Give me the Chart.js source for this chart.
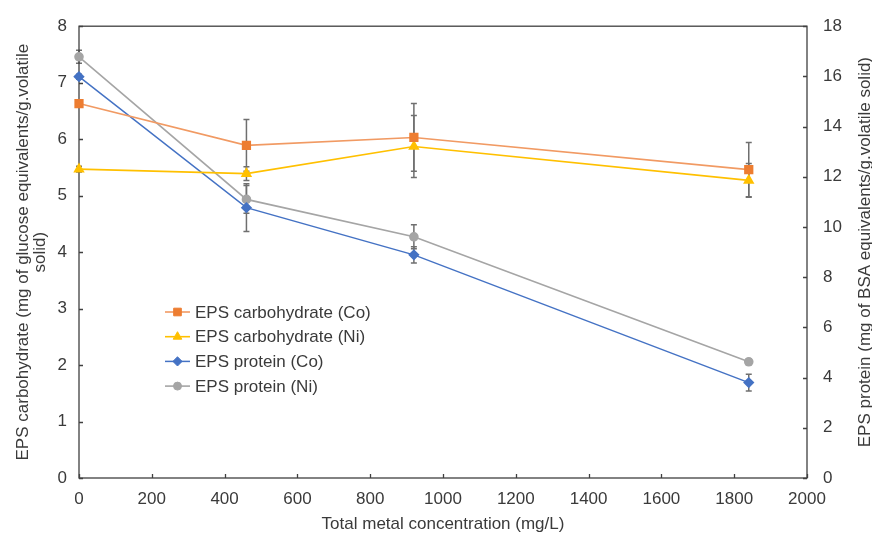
<!DOCTYPE html>
<html lang="en">
<head>
    <meta charset="UTF-8">
    <title>EPS vs total metal concentration</title>
    <script src="https://cdn.jsdelivr.net/npm/chart.js@4.4.0/dist/chart.umd.min.js"></script>
    <style>
        html, body {
            margin: 0;
            padding: 0;
            background: #ffffff;
        }
        #epsChart {
            display: block;
        }
    </style>
</head>
<body>
<canvas id="epsChart" width="872" height="539"></canvas>
<script>
    // total metal concentration (mg/L)
    const concentration = [0, 460, 920, 1840];

    // EPS carbohydrate, mg glucose eq./g VS (left axis)
    const carbCo = [6.63, 5.89, 6.03, 5.46];
    const carbNi = [5.47, 5.39, 5.87, 5.27];
    const carbCoErr = [0.05, 0.46, 0.60, 0.48];
    const carbNiErr = [0.05, 0.12, 0.55, 0.30];

    // EPS protein, mg BSA eq./g VS (right axis)
    const protCo = [15.99, 10.77, 8.89, 3.80];
    const protNi = [16.78, 11.10, 9.61, 4.63];
    const protCoErr = [0.10, 0.95, 0.32, 0.33];
    const protNiErr = [0.26, 0.55, 0.48, 0.12];

    const xTicks = [0, 200, 400, 600, 800, 1000, 1200, 1400, 1600, 1800, 2000];
    const leftTicks = [0, 1, 2, 3, 4, 5, 6, 7, 8];
    const rightTicks = [0, 2, 4, 6, 8, 10, 12, 14, 16, 18];

    const seriesNames = ['EPS carbohydrate (Co)', 'EPS carbohydrate (Ni)', 'EPS protein (Co)', 'EPS protein (Ni)'];
    const rightTitle = 'EPS protein (mg of BSA equivalents/g.volatile solid)';

    const axisColor = '#404040';
    const textColor = '#3a3a3a';
    const fontFamily = '"Liberation Sans", Arial, sans-serif';

    function toPoints(ys) {
        return concentration.map((x, i) => ({x: x, y: ys[i]}));
    }

    // vertical error bars with caps, drawn under the markers
    const errorBars = {
        id: 'errorBars',
        beforeDatasetsDraw(chart) {
            const ctx = chart.ctx;
            const xs = chart.scales.x;
            ctx.save();
            ctx.strokeStyle = '#6f6f6f';
            ctx.lineWidth = 1.5;
            chart.data.datasets.forEach(ds => {
                const ys = chart.scales[ds.yAxisID];
                ds.data.forEach((p, i) => {
                    const e = ds.errors[i];
                    const px = xs.getPixelForValue(p.x);
                    const top = ys.getPixelForValue(p.y + e);
                    const bot = ys.getPixelForValue(p.y - e);
                    ctx.beginPath();
                    ctx.moveTo(px, top);
                    ctx.lineTo(px, bot);
                    ctx.moveTo(px - 3, top);
                    ctx.lineTo(px + 3, top);
                    ctx.moveTo(px - 3, bot);
                    ctx.lineTo(px + 3, bot);
                    ctx.stroke();
                });
            });
            ctx.restore();
        }
    };

    // box around the plot with inward tick marks, plus the right axis title
    const frameAndTicks = {
        id: 'frameAndTicks',
        beforeDatasetsDraw(chart) {
            const ctx = chart.ctx;
            const a = chart.chartArea;
            const {x, y, y2} = chart.scales;
            ctx.save();
            ctx.strokeStyle = axisColor;
            ctx.lineWidth = 1.3;
            ctx.strokeRect(a.left, a.top, a.right - a.left, a.bottom - a.top);
            ctx.beginPath();
            xTicks.forEach(v => {
                const px = Math.round(x.getPixelForValue(v)) + 0.5;
                ctx.moveTo(px, a.bottom);
                ctx.lineTo(px, a.bottom - 4);
            });
            leftTicks.forEach(v => {
                const py = Math.round(y.getPixelForValue(v)) + 0.5;
                ctx.moveTo(a.left, py);
                ctx.lineTo(a.left + 4, py);
            });
            rightTicks.forEach(v => {
                const py = Math.round(y2.getPixelForValue(v)) + 0.5;
                ctx.moveTo(a.right, py);
                ctx.lineTo(a.right - 4, py);
            });
            ctx.stroke();

            // right title reads bottom-to-top like the left one
            ctx.translate(865, (a.top + a.bottom) / 2);
            ctx.rotate(-Math.PI / 2);
            ctx.font = '17px ' + fontFamily;
            ctx.fillStyle = textColor;
            ctx.textAlign = 'center';
            ctx.textBaseline = 'middle';
            ctx.fillText(rightTitle, 0, 0);
            ctx.restore();
        }
    };

    // legend inside the plot: line segment, marker, label
    const insideLegend = {
        id: 'insideLegend',
        afterDraw(chart) {
            const ctx = chart.ctx;
            ctx.save();
            ctx.font = '17px ' + fontFamily;
            ctx.textBaseline = 'middle';
            ctx.textAlign = 'left';
            chart.data.datasets.forEach((ds, i) => {
                const cy = 312 + i * 24.7;
                ctx.strokeStyle = ds.borderColor;
                ctx.lineWidth = ds.borderWidth;
                ctx.beginPath();
                ctx.moveTo(165, cy);
                ctx.lineTo(190, cy);
                ctx.stroke();
                ctx.fillStyle = ds.pointBackgroundColor;
                ctx.strokeStyle = ds.pointBorderColor;
                ctx.lineWidth = 1;
                Chart.helpers.drawPoint(ctx, {
                    pointStyle: ds.pointStyle,
                    radius: ds.pointRadius,
                    borderWidth: 1,
                    rotation: 0
                }, 177.5, cy);
                ctx.fillStyle = textColor;
                ctx.fillText(ds.label, 195, cy + 1);
            });
            ctx.restore();
        }
    };

    const plainNumber = v => String(v);

    const ctx = document.getElementById('epsChart').getContext('2d');
    const epsChart = new Chart(ctx, {
        type: 'line',
        data: {
            datasets: [{
                label: seriesNames[0],
                data: toPoints(carbCo),
                errors: carbCoErr,
                yAxisID: 'y',
                borderColor: '#f19a63',
                borderWidth: 1.6,
                pointStyle: 'rect',
                pointRadius: 5.4,
                pointBackgroundColor: '#ed7d31',
                pointBorderColor: '#ed7d31'
            }, {
                label: seriesNames[1],
                data: toPoints(carbNi),
                errors: carbNiErr,
                yAxisID: 'y',
                borderColor: '#ffc000',
                borderWidth: 1.6,
                pointStyle: 'triangle',
                pointRadius: 5,
                pointBackgroundColor: '#ffc000',
                pointBorderColor: '#ffc000'
            }, {
                label: seriesNames[2],
                data: toPoints(protCo),
                errors: protCoErr,
                yAxisID: 'y2',
                borderColor: '#4472c4',
                borderWidth: 1.5,
                pointStyle: 'rectRot',
                pointRadius: 4.6,
                pointBackgroundColor: '#4472c4',
                pointBorderColor: '#4472c4'
            }, {
                label: seriesNames[3],
                data: toPoints(protNi),
                errors: protNiErr,
                yAxisID: 'y2',
                borderColor: '#a5a5a5',
                borderWidth: 1.6,
                pointStyle: 'circle',
                pointRadius: 4,
                pointBackgroundColor: '#a5a5a5',
                pointBorderColor: '#a5a5a5'
            }]
        },
        options: {
            responsive: false,
            animation: false,
            devicePixelRatio: 1,
            clip: false,
            layout: {
                padding: {top: 21, left: 0, right: 0, bottom: 0}
            },
            plugins: {
                legend: {display: false},
                tooltip: {enabled: false}
            },
            scales: {
                x: {
                    type: 'linear',
                    min: 0,
                    max: 2000,
                    afterBuildTicks: s => { s.ticks = xTicks.map(v => ({value: v})); },
                    afterFit: s => { s.height = 61; },
                    grid: {display: false, drawTicks: false},
                    border: {display: false},
                    ticks: {
                        padding: 11,
                        color: textColor,
                        callback: plainNumber,
                        font: {family: fontFamily, size: 17}
                    },
                    title: {
                        display: true,
                        text: 'Total metal concentration (mg/L)',
                        color: textColor,
                        padding: {top: 0, bottom: 4},
                        font: {family: fontFamily, size: 17, lineHeight: 1.2}
                    }
                },
                y: {
                    type: 'linear',
                    position: 'left',
                    min: 0,
                    max: 8,
                    afterBuildTicks: s => { s.ticks = leftTicks.map(v => ({value: v})); },
                    afterFit: s => { s.width = 79; },
                    grid: {display: false, drawTicks: false},
                    border: {display: false},
                    ticks: {
                        padding: 12,
                        color: textColor,
                        callback: plainNumber,
                        font: {family: fontFamily, size: 17}
                    },
                    title: {
                        display: true,
                        text: ['EPS carbohydrate (mg of glucose equivalents/g.volatile', 'solid)'],
                        color: textColor,
                        padding: {top: 14, bottom: 0},
                        font: {family: fontFamily, size: 17, lineHeight: 1.05}
                    }
                },
                y2: {
                    type: 'linear',
                    position: 'right',
                    min: 0,
                    max: 18,
                    afterBuildTicks: s => { s.ticks = rightTicks.map(v => ({value: v})); },
                    afterFit: s => { s.width = 65; },
                    grid: {display: false, drawTicks: false},
                    border: {display: false},
                    ticks: {
                        padding: 16,
                        color: textColor,
                        callback: plainNumber,
                        font: {family: fontFamily, size: 17}
                    },
                    title: {display: false}
                }
            }
        },
        plugins: [errorBars, frameAndTicks, insideLegend]
    });
</script>
</body>
</html>
